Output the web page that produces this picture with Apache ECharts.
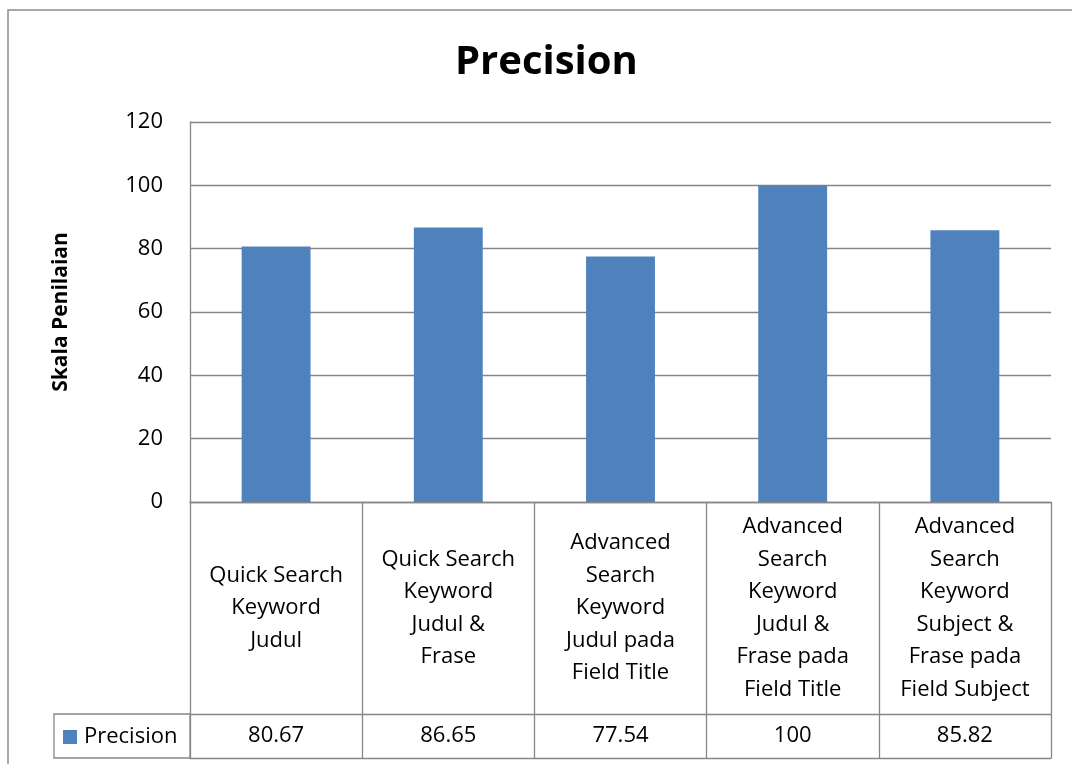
<!DOCTYPE html>
<html>
<head>
<meta charset="utf-8">
<script src="https://cdn.jsdelivr.net/npm/echarts@6/dist/echarts.min.js"></script>
<style>
html,body{margin:0;padding:0;background:#fff;}
#chart{width:1072px;height:764px;}
</style>
</head>
<body>
<div id="chart"></div>
<script>
var chartTitle = 'Precision';
var seriesName = 'Precision';
var yAxisName = 'Skala Penilaian';
var categories = [
  'Quick Search\nKeyword\nJudul',
  'Quick Search\nKeyword\nJudul &\nFrase',
  'Advanced\nSearch\nKeyword\nJudul pada\nField Title',
  'Advanced\nSearch\nKeyword\nJudul &\nFrase pada\nField Title',
  'Advanced\nSearch\nKeyword\nSubject &\nFrase pada\nField Subject'
];
var values = [80.67, 86.65, 77.54, 100, 85.82];
var valueLabels = ['80.67', '86.65', '77.54', '100', '85.82'];
var yTicks = { min: 0, max: 120, interval: 20 };

var FONT = 'Open Sans';
var GRID_COLOR = '#868686';
var chart = echarts.init(document.getElementById('chart'));
chart.setOption({
  animation: false,
  textStyle: { fontFamily: FONT },
  title: {
    text: chartTitle,
    left: 450,
    top: 38,
    textStyle: { fontFamily: FONT, fontSize: 40, fontWeight: 'bold', color: '#000' }
  },
  legend: {
    data: [seriesName],
    left: 58,
    top: 721,
    icon: 'rect',
    itemWidth: 14,
    itemHeight: 14,
    itemGap: 4,
    textStyle: { fontFamily: FONT, fontSize: 22, color: '#000', padding: [0, 0, 0, 2] }
  },
  grid: { left: 190, right: 21, top: 122, height: 380, containLabel: false },
  xAxis: [
    {
      type: 'category',
      data: categories,
      position: 'bottom',
      axisLine: { show: true, lineStyle: { color: GRID_COLOR, width: 1.3 } },
      axisTick: { show: true, alignWithLabel: false, length: 256, lineStyle: { color: GRID_COLOR, width: 1.3 } },
      axisLabel: {
        interval: 0,
        margin: 106,
        verticalAlign: 'middle',
        fontFamily: FONT,
        fontSize: 22,
        lineHeight: 32.5,
        color: '#000',
        align: 'center'
      },
      splitLine: { show: false }
    },
    {
      type: 'category',
      data: categories,
      position: 'bottom',
      offset: 212,
      axisLine: { show: true, lineStyle: { color: GRID_COLOR, width: 1.3 } },
      axisTick: { show: false },
      axisLabel: {
        interval: 0,
        margin: 22,
        verticalAlign: 'middle',
        fontFamily: FONT,
        fontSize: 22,
        color: '#000',
        formatter: function (v, i) { return valueLabels[i]; }
      }
    },
    {
      type: 'category',
      data: categories,
      position: 'bottom',
      offset: 256,
      axisLine: { show: true, lineStyle: { color: GRID_COLOR, width: 1.3 } },
      axisTick: { show: false },
      axisLabel: { show: false }
    }
  ],
  yAxis: {
    type: 'value',
    min: yTicks.min,
    max: yTicks.max,
    interval: yTicks.interval,
    name: yAxisName,
    nameLocation: 'middle',
    nameGap: 118,
    nameTextStyle: { fontFamily: FONT, fontSize: 21, fontWeight: 'bold', color: '#000' },
    axisLine: { show: true, lineStyle: { color: GRID_COLOR, width: 1.3 } },
    axisTick: { show: false },
    axisLabel: { fontFamily: FONT, fontSize: 22, color: '#000', margin: 27 },
    splitLine: { show: true, lineStyle: { color: GRID_COLOR, width: 1.3 } }
  },
  series: [{
    name: seriesName,
    type: 'bar',
    data: values,
    barCategoryGap: '60%',
    itemStyle: { color: '#4F81BD' }
  }],
  graphic: [
    {
      type: 'rect',
      shape: { x: 8, y: 10, width: 1100, height: 800 },
      style: { fill: 'none', stroke: '#8c8c8c', lineWidth: 1.5 },
      silent: true
    },
    {
      type: 'rect',
      shape: { x: 54, y: 714, width: 136, height: 44 },
      style: { fill: 'none', stroke: GRID_COLOR, lineWidth: 1.3 },
      silent: true
    }
  ]
});
</script>
</body>
</html>
